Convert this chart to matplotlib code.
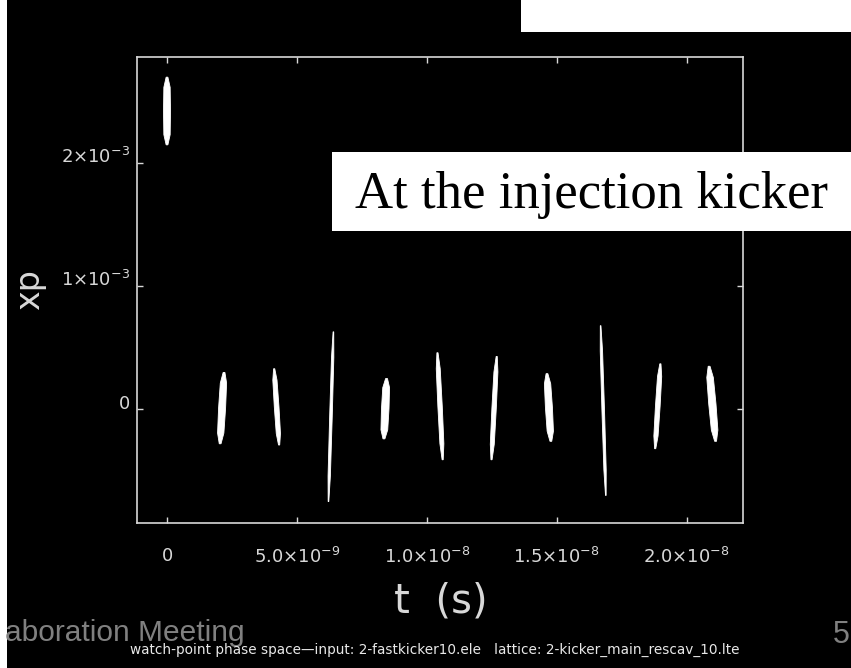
import matplotlib
matplotlib.use('Agg')
import matplotlib.pyplot as plt
import numpy as np
from matplotlib.patches import Rectangle

# bunch centroids in time (ns) and xp extent (1e-3 rad)
bunch_t_ns = [0.00, 2.12, 4.22, 6.31, 8.40, 10.51, 12.59, 14.70, 16.79, 18.89, 20.99]
xp_top = [2.70, 0.30, 0.33, 0.63, 0.25, 0.46, 0.43, 0.29, 0.68, 0.37, 0.35]
xp_bottom = [2.15, -0.28, -0.29, -0.75, -0.24, -0.41, -0.41, -0.26, -0.70, -0.32, -0.26]
# t shift of top end relative to bottom end (ns), and bunch width (ns)
tilt_ns = [0.00, 0.15, -0.19, 0.19, 0.10, -0.20, 0.20, -0.15, -0.20, 0.20, -0.25]
width_ns = [0.27, 0.27, 0.18, 0.10, 0.29, 0.17, 0.17, 0.27, 0.10, 0.18, 0.28]

x_ticks = [0, 5e-9, 1e-8, 1.5e-8, 2e-8]
x_tick_labels = ['0', r'$5.0{\times}10^{-9}$', r'$1.0{\times}10^{-8}$',
                 r'$1.5{\times}10^{-8}$', r'$2.0{\times}10^{-8}$']
y_ticks = [0, 1e-3, 2e-3]
y_tick_labels = ['0', r'$1{\times}10^{-3}$', r'$2{\times}10^{-3}$']

W, H = 851, 668
fg = '#d8d8d8'


def fx(px):
    return px / W


def fy(py):
    return 1 - py / H


fig = plt.figure(figsize=(W / 100, H / 100), dpi=100, facecolor='black')
ax = fig.add_axes([fx(137), fy(523), fx(743) - fx(137), fy(57) - fy(523)])
ax.set_facecolor('black')

# each bunch drawn as a tilted spindle
frac = np.array([0, 0.15, 0.5, 0.85, 1])
shape = np.array([0.25, 0.9, 1.0, 0.9, 0.25])
for t, top, bot, tilt, w in zip(bunch_t_ns, xp_top, xp_bottom, tilt_ns, width_ns):
    xp = bot + frac * (top - bot)
    tc = t + tilt * (frac - 0.5)
    hw = w / 2 * shape
    ts = np.concatenate([tc + hw, (tc - hw)[::-1]]) * 1e-9
    xps = np.concatenate([xp, xp[::-1]]) * 1e-3
    ax.fill(ts, xps, color='white', lw=0.6, ec='white')

ax.set_xlim(-1.155e-9, 2.217e-8)
ax.set_ylim(-0.924e-3, 2.864e-3)
ax.set_xticks(x_ticks, x_tick_labels)
ax.set_yticks(y_ticks, y_tick_labels, va='baseline')
ax.tick_params(direction='in', length=4, width=1, colors=fg, labelcolor=fg,
               labelsize=13, top=True, right=True)
ax.tick_params(axis='x', pad=17)
ax.tick_params(axis='y', pad=5)
for s in ax.spines.values():
    s.set_color(fg)
    s.set_linewidth(1.2)

fig.text(fx(441), fy(602), 't  (s)', ha='center', va='center', fontsize=29, color=fg)
fig.text(fx(29.5), fy(290), 'xp', ha='center', va='center', rotation=90,
         fontsize=24, color=fg)

# slide furniture around the plot
fig.patches.append(Rectangle((0, 0), fx(7), 1, transform=fig.transFigure,
                             facecolor='white', edgecolor='none', zorder=5))
fig.patches.append(Rectangle((fx(521), fy(32)), 1 - fx(521), 1 - fy(32),
                             transform=fig.transFigure, facecolor='white',
                             edgecolor='none', zorder=5))
fig.patches.append(Rectangle((fx(331.7), fy(231)), 1 - fx(331.7), fy(151.7) - fy(231),
                             transform=fig.transFigure, facecolor='white',
                             edgecolor='none', zorder=5))
fig.text(fx(355), fy(208), 'At the injection kicker', ha='left', va='baseline',
         fontsize=38, family='Liberation Serif', color='black', zorder=6)
fig.text(fx(245), fy(641), 'aboration Meeting', ha='right', va='baseline',
         fontsize=21.5, family='Liberation Sans', color='#808080', zorder=6)
fig.text(fx(850), fy(643), '5', ha='right', va='baseline',
         fontsize=22, family='Liberation Sans', color='#808080', zorder=6)
fig.text(fx(130), fy(650),
         'watch-point phase space\u2014input: 2-fastkicker10.ele   lattice: 2-kicker_main_rescav_10.lte',
         ha='left', va='center', fontsize=9.8, color='#e8e8e8', zorder=7)

fig.savefig('out.png', dpi=100, facecolor='black')
